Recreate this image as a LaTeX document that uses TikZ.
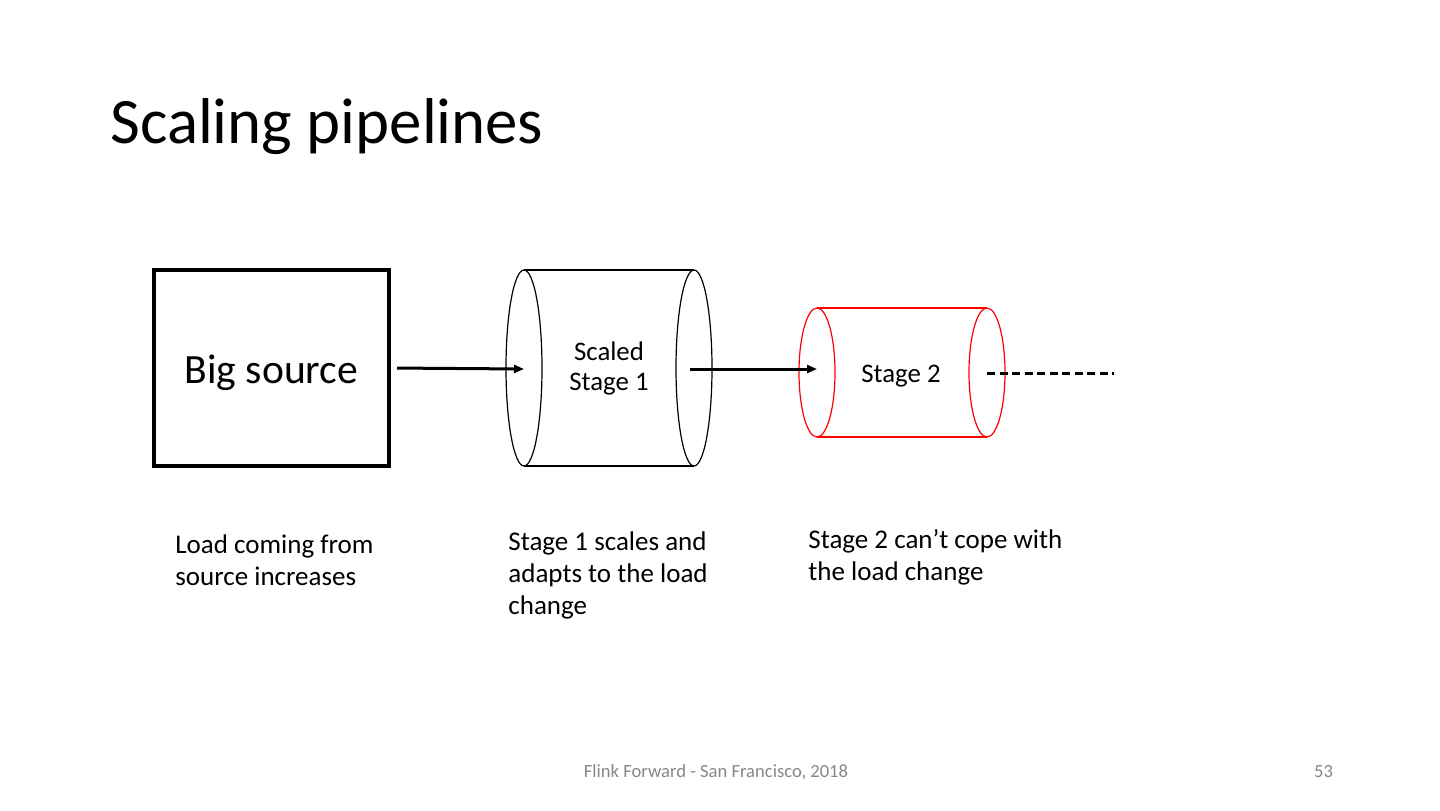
\documentclass[tikz,border=0pt]{standalone}
\usepackage{fontspec}
\setmainfont{Carlito}
\usetikzlibrary{arrows.meta}

\begin{document}
\begin{tikzpicture}[x=0.5pt,y=-0.5pt,
  flow/.style={line width=1.5pt,-{Triangle[length=5pt,width=4pt]}},
  tube/.style={line width=0.6pt},
  body/.style={font=\fontsize{13.5}{16}\selectfont,align=left,anchor=north west,inner sep=0pt}]
\useasboundingbox (0,0) rectangle (1440,810);
% title
\node[anchor=base west,inner sep=0pt,font=\fontsize{32.4}{40}\selectfont] (title) at (110,143) {Scaling pipelines};
% source box
\node[draw,line width=2pt,minimum width=117.5pt,minimum height=98pt,font=\fontsize{20.8}{25}\selectfont] (src) at (271.5,368) {\raisebox{-2.5pt}[\height][\depth]{Big source}};
% stage 1 cylinder
\coordinate (s1in) at (524,369);
\coordinate (s1out) at (694,369);
\draw[tube] (524,270) -- (694,270);
\draw[tube] (524,466) -- (694,466);
\draw[tube] (524,368) ellipse [x radius=18,y radius=98];
\draw[tube] (694,368) ellipse [x radius=18,y radius=98];
\node[align=center,font=\fontsize{13.4}{15}\selectfont] (s1) at (609,368) {Scaled\\Stage 1};
% stage 2 cylinder
\coordinate (s2in) at (817,369);
\coordinate (s2out) at (987,373);
\draw[tube,red] (817,308) -- (987,308);
\draw[tube,red] (817,437) -- (987,437);
\draw[tube,red] (817,372.5) ellipse [x radius=18,y radius=64.5];
\draw[tube,red] (987,372.5) ellipse [x radius=18,y radius=64.5];
\node[font=\fontsize{13.4}{15}\selectfont] (s2) at (901,376) {Stage 2};
\coordinate (more) at (1114,373);
% connectors
\draw[flow,shorten <=3pt] (src.east) -- (s1in);
\draw[flow,shorten <=-2pt] (s1out) -- (s2in);
\draw[line width=1.5pt,dash pattern=on 4pt off 2.25pt] (s2out) -- (more);
% captions
\node[body] (cap1) at (175,534) {Load coming from\\source increases};
\node[body] (cap2) at (508,531) {Stage 1 scales and\\adapts to the load\\change};
\node[body] (cap3) at (808,529) {Stage 2 can’t cope with\\the load change};
% footer
\node[text=black!47,font=\fontsize{9.3}{11}\selectfont] (foot) at (716,772) {Flink Forward - San Francisco, 2018};
\node[text=black!47,font=\fontsize{9.3}{11}\selectfont,anchor=east] (page) at (1340,772) {53};
\end{tikzpicture}
\end{document}
